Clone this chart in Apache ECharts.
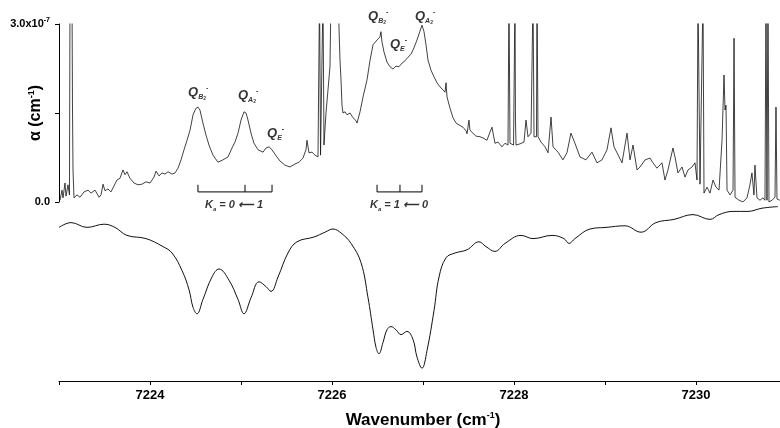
<!DOCTYPE html>
<html><head><meta charset="utf-8">
<script src="https://cdn.jsdelivr.net/npm/echarts@6/dist/echarts.min.js"></script>
<style>html,body{margin:0;padding:0;background:#fff}#c{width:780px;height:428px}</style>
</head><body><div id="c"></div>
<script>
// Measured spectrum (units of 1e-7 cm^-1); values above 3 are clipped off the top of the frame
const wnMeas = [7223.011,7223.033,7223.044,7223.066,7223.077,7223.099,7223.115,7223.121,7223.143,7223.148,7223.154,7223.165,7223.198,7223.231,7223.275,7223.319,7223.352,7223.396,7223.440,7223.462,7223.484,7223.505,7223.538,7223.571,7223.604,7223.637,7223.670,7223.703,7223.725,7223.747,7223.780,7223.824,7223.868,7223.912,7223.956,7224.000,7224.044,7224.066,7224.099,7224.132,7224.165,7224.198,7224.242,7224.275,7224.308,7224.341,7224.374,7224.407,7224.440,7224.473,7224.505,7224.527,7224.549,7224.582,7224.615,7224.648,7224.692,7224.747,7224.802,7224.857,7224.901,7224.934,7224.967,7225.000,7225.033,7225.055,7225.077,7225.110,7225.143,7225.187,7225.242,7225.275,7225.308,7225.341,7225.385,7225.429,7225.484,7225.538,7225.593,7225.637,7225.681,7225.714,7225.725,7225.747,7225.780,7225.813,7225.846,7225.857,7225.863,7225.874,7225.901,7225.912,7225.934,7225.956,7225.978,7225.989,7226.066,7226.082,7226.088,7226.099,7226.110,7226.121,7226.143,7226.165,7226.198,7226.231,7226.264,7226.275,7226.308,7226.341,7226.385,7226.418,7226.451,7226.495,7226.527,7226.538,7226.549,7226.571,7226.604,7226.637,7226.670,7226.703,7226.736,7226.769,7226.802,7226.835,7226.868,7226.901,7226.934,7226.967,7226.989,7227.011,7227.033,7227.055,7227.088,7227.121,7227.154,7227.187,7227.220,7227.242,7227.253,7227.264,7227.297,7227.330,7227.363,7227.396,7227.440,7227.473,7227.484,7227.505,7227.516,7227.549,7227.582,7227.626,7227.659,7227.703,7227.736,7227.758,7227.791,7227.824,7227.868,7227.901,7227.934,7227.945,7227.956,7227.995,7228.011,7228.016,7228.022,7228.066,7228.110,7228.132,7228.154,7228.187,7228.209,7228.220,7228.247,7228.253,7228.264,7228.297,7228.341,7228.374,7228.407,7228.429,7228.484,7228.538,7228.582,7228.626,7228.670,7228.725,7228.791,7228.857,7228.912,7228.967,7229.022,7229.066,7229.099,7229.132,7229.187,7229.242,7229.275,7229.308,7229.352,7229.385,7229.440,7229.495,7229.527,7229.571,7229.626,7229.659,7229.692,7229.747,7229.769,7229.802,7229.846,7229.879,7229.912,7229.956,7229.989,7230.011,7230.022,7230.044,7230.077,7230.088,7230.121,7230.154,7230.187,7230.220,7230.253,7230.286,7230.308,7230.319,7230.330,7230.341,7230.374,7230.407,7230.418,7230.429,7230.473,7230.516,7230.560,7230.593,7230.615,7230.637,7230.648,7230.670,7230.703,7230.736,7230.758,7230.769,7230.780,7230.791,7230.802,7230.835,7230.868,7230.879,7230.890,7230.920];
const alphaMeas = [0.03,0.20,0.07,0.32,0.10,0.29,0.12,3.5,3.5,1.67,0.54,0.07,0.12,0.08,0.17,0.20,0.15,0.20,0.08,0.12,0.30,0.19,0.22,0.17,0.27,0.37,0.40,0.54,0.46,0.51,0.40,0.32,0.29,0.30,0.34,0.32,0.42,0.52,0.44,0.49,0.47,0.51,0.47,0.49,0.57,0.71,0.88,1.04,1.21,1.47,1.58,1.60,1.55,1.33,1.13,0.96,0.79,0.67,0.71,0.76,0.91,1.01,1.16,1.38,1.52,1.50,1.38,1.16,0.99,0.88,0.84,0.91,0.93,0.88,0.78,0.69,0.62,0.59,0.64,0.67,0.74,0.88,1.04,0.83,0.84,0.79,0.76,0.76,3.5,0.79,3.5,0.96,1.50,1.89,2.28,3.5,3.5,2.68,2.39,2.06,1.63,1.50,1.52,1.47,1.50,1.42,1.37,1.33,1.52,1.77,2.06,2.39,2.65,2.73,2.78,2.87,2.70,2.53,2.36,2.28,2.24,2.29,2.28,2.34,2.38,2.44,2.49,2.60,2.73,2.88,2.98,2.87,2.65,2.39,2.22,2.11,2.01,1.94,1.89,1.85,2.01,1.77,1.58,1.42,1.33,1.30,1.26,1.20,1.15,1.38,1.21,1.16,1.11,1.10,1.08,1.04,1.18,1.26,0.99,1.01,0.93,0.99,0.96,3.5,0.99,0.96,3.5,1.38,0.96,0.98,1.01,1.38,1.10,1.16,3.5,1.10,1.10,3.5,1.10,1.01,0.93,0.83,1.43,0.93,0.84,0.71,0.83,1.16,0.99,0.76,0.71,0.84,0.66,0.71,0.88,1.25,0.93,0.83,0.66,1.16,0.71,0.96,0.54,0.59,0.71,0.74,0.66,0.57,0.66,0.37,0.54,0.91,0.76,0.49,0.59,0.42,0.54,0.59,0.66,0.37,3.5,0.30,3.5,0.15,0.25,0.15,0.37,0.25,0.20,1.04,2.14,1.55,1.63,0.20,0.12,0.20,2.76,0.08,0.03,0.00,0.07,0.29,0.49,0.12,0.62,0.07,0.03,0.07,0.03,3.5,0.03,3.5,0.00,0.03,0.08,1.60,0.05,0.03];

// Simulated spectrum (arbitrary units, drawn inverted below)
const wnSim = [7223.000,7223.132,7223.308,7223.495,7223.615,7223.747,7223.956,7224.143,7224.242,7224.352,7224.429,7224.473,7224.516,7224.582,7224.681,7224.758,7224.868,7224.967,7225.033,7225.110,7225.198,7225.275,7225.330,7225.407,7225.516,7225.615,7225.802,7225.923,7226.011,7226.110,7226.209,7226.319,7226.396,7226.451,7226.484,7226.516,7226.560,7226.604,7226.648,7226.703,7226.758,7226.824,7226.890,7226.934,7226.989,7227.044,7227.121,7227.176,7227.253,7227.352,7227.484,7227.615,7227.692,7227.791,7227.901,7228.077,7228.209,7228.418,7228.549,7228.604,7228.670,7228.835,7229.011,7229.220,7229.396,7229.560,7229.758,7229.967,7230.154,7230.253,7230.407,7230.571,7230.725,7230.901];
const intSim = [0.14,0.11,0.14,0.12,0.14,0.19,0.21,0.26,0.30,0.41,0.53,0.64,0.68,0.59,0.45,0.40,0.47,0.59,0.68,0.58,0.48,0.51,0.54,0.45,0.30,0.23,0.20,0.17,0.15,0.18,0.24,0.36,0.58,0.78,0.89,0.93,0.86,0.78,0.76,0.78,0.81,0.79,0.84,0.95,1.02,0.91,0.66,0.45,0.33,0.30,0.28,0.23,0.26,0.29,0.24,0.19,0.21,0.19,0.21,0.24,0.21,0.15,0.14,0.13,0.17,0.11,0.09,0.06,0.09,0.06,0.04,0.04,0.02,0.01];

// Assignment brackets (band positions, cm^-1)
const bracketKa01 = [7224.527, 7225.044, 7225.341];
const bracketKa10 = [7226.495, 7226.747, 7226.989];
const bracketLevels = [0.17, 0.29];

// Peak labels: [wavenumber, alpha, subscript, subsubscript]
const peakLabels = [
  [7224.418, 1.84, 'B', '2'],
  [7224.967, 1.79, 'A', '2'],
  [7225.286, 1.15, 'E', ''],
  [7226.396, 3.12, 'B', '2'],
  [7226.637, 2.65, 'E', ''],
  [7226.912, 3.13, 'A', '2']
];
const kaLabels = [
  [7224.604, -0.05, '0', '1'],
  [7226.418, -0.05, '1', '0']
];
const xTickLabels = [7224, 7226, 7228, 7230];

const FONT = '"Liberation Sans", Arial, sans-serif';
const zip = (a, b) => a.map((v, i) => [v, b[i]]);

function bracketSeries(pos) {
  const lo = bracketLevels[0], hi = bracketLevels[1];
  const base = {type: 'line', xAxisIndex: 0, yAxisIndex: 0, showSymbol: false, silent: true,
    lineStyle: {color: '#000', width: 1}, animation: false, clip: false};
  return [
    Object.assign({}, base, {data: [[pos[0], hi], [pos[0], lo], [pos[2], lo], [pos[2], hi]]}),
    Object.assign({}, base, {data: [[pos[1], lo], [pos[1], hi]]})
  ];
}

const qRich = {
  q: {fontFamily: FONT, fontSize: 13, fontWeight: 'bold', fontStyle: 'italic', color: '#000'},
  s: {fontFamily: FONT, fontSize: 7, fontWeight: 'bold', fontStyle: 'italic', color: '#000', padding: [9, 0, 0, 0]},
  s2: {fontFamily: FONT, fontSize: 5, fontWeight: 'bold', color: '#000', padding: [12, 0, 0, 0]},
  p: {fontFamily: FONT, fontSize: 7, fontWeight: 'bold', color: '#000', padding: [0, 0, 9, 0]},
  k: {fontFamily: FONT, fontSize: 11, fontWeight: 'bold', fontStyle: 'italic', color: '#000'},
  ks: {fontFamily: FONT, fontSize: 6, fontWeight: 'bold', fontStyle: 'italic', color: '#000', padding: [9, 0, 0, 0]}
};

const chart = echarts.init(document.getElementById('c'), null, {renderer: 'canvas'});
chart.setOption({
  backgroundColor: '#fff',
  animation: false,
  grid: [
    {left: 59, top: 24, width: 728, height: 178, containLabel: false, outerBoundsMode: 'none'},
    {left: 59, top: 205, width: 728, height: 176, containLabel: false, outerBoundsMode: 'none'}
  ],
  xAxis: [
    {gridIndex: 0, type: 'value', min: 7223, max: 7231, show: false},
    {gridIndex: 1, type: 'value', min: 7223, max: 7231, interval: 1,
     axisLine: {onZero: false, lineStyle: {color: '#000', width: 1}},
     axisTick: {show: true, length: 4, lineStyle: {color: '#000'}},
     splitLine: {show: false},
     axisLabel: {fontFamily: FONT, fontSize: 13, fontWeight: 'bold', color: '#000', margin: 8,
       formatter: v => xTickLabels.indexOf(v) >= 0 ? String(v) : ''},
     name: '{t|Wavenumber (cm}{u|-1}{t|)}', nameLocation: 'middle', nameGap: 30,
     nameTextStyle: {rich: {
       t: {fontFamily: FONT, fontSize: 17, fontWeight: 'bold', color: '#000'},
       u: {fontFamily: FONT, fontSize: 9, fontWeight: 'bold', color: '#000', padding: [0, 0, 9, 0]}
     }}
    }
  ],
  yAxis: [
    {gridIndex: 0, type: 'value', min: 0, max: 3, interval: 1.5,
     axisLine: {show: true, lineStyle: {color: '#000', width: 1}},
     axisTick: {show: true, length: 4, lineStyle: {color: '#000'}},
     splitLine: {show: false},
     axisLabel: {margin: 9, color: '#000',
       formatter: v => v === 0 ? '{a|0.0}' : (v === 3 ? '{a|3.0x10}{e|-7}' : ''),
       rich: {
         a: {fontFamily: FONT, fontSize: 11, fontWeight: 'bold', color: '#000'},
         e: {fontFamily: FONT, fontSize: 7, fontWeight: 'bold', color: '#000', padding: [0, 0, 7, 0]}
       }},
     name: '{t|\u03B1 (cm}{u|-1}{t|)}', nameLocation: 'middle', nameGap: 14, nameMoveOverlap: false,
     nameTextStyle: {rich: {
       t: {fontFamily: FONT, fontSize: 16, fontWeight: 'bold', color: '#000'},
       u: {fontFamily: FONT, fontSize: 9, fontWeight: 'bold', color: '#000', padding: [0, 0, 9, 0]}
     }}
    },
    {gridIndex: 1, type: 'value', min: 0, max: 1.1, inverse: true, show: false}
  ],
  series: [
    {type: 'line', xAxisIndex: 0, yAxisIndex: 0, data: zip(wnMeas, alphaMeas), showSymbol: false,
     lineStyle: {color: '#111', width: 0.8}, clip: true, silent: true},
    {type: 'line', xAxisIndex: 1, yAxisIndex: 1, data: zip(wnSim, intSim), showSymbol: false, smooth: 0.4,
     lineStyle: {color: '#111', width: 1}, clip: true, silent: true},
    ...bracketSeries(bracketKa01),
    ...bracketSeries(bracketKa10),
    {type: 'scatter', xAxisIndex: 0, yAxisIndex: 0, symbolSize: 0, clip: false, silent: true,
     data: peakLabels.map(p => ({value: [p[0], p[1]], lab: p})),
     label: {show: true, position: 'right', distance: 0, rich: qRich,
       formatter: pr => '{q|Q}{s|' + pr.data.lab[2] + '}' + (pr.data.lab[3] ? '{s2|' + pr.data.lab[3] + '}' : '') + '{p|-}'}
    },
    {type: 'scatter', xAxisIndex: 0, yAxisIndex: 0, symbolSize: 0, clip: false, silent: true,
     data: kaLabels.map(p => ({value: [p[0], p[1]], lab: p})),
     label: {show: true, position: 'right', distance: 0, rich: qRich,
       formatter: pr => '{k|K}{ks|a}{k| = ' + pr.data.lab[2] + ' \u27F5 ' + pr.data.lab[3] + '}'}
    }
  ]
});
</script></body></html>
